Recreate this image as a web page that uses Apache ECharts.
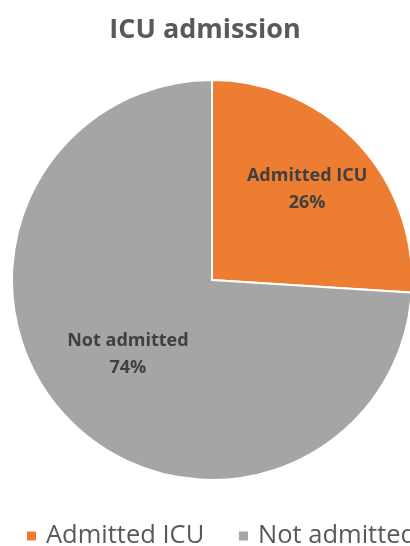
<!DOCTYPE html>
<html lang="en">
  <head>
    <meta charset="UTF-8" />
    <title>ICU admission</title>
    <script src="https://cdn.jsdelivr.net/npm/echarts@6/dist/echarts.min.js"></script>
    <style>
      html, body { margin: 0; padding: 0; background: #fff; }
      #chart { width: 410px; height: 546px; }
    </style>
  </head>
  <body>
    <div id="chart"></div>
    <script>
      // data
      var categories = ['Admitted ICU', 'Not admitted'];
      var shares = [26, 74];
      var colors = ['#ED7D31', '#A5A5A5'];
      // label nudges so text sits where the original put it
      var labelOffsets = [[20, -20], [-9, 4]];
      // the legend runs off the right edge in the original, so each item gets its own legend box
      var legendLefts = [20, 232];

      var pieData = categories.map(function (name, i) {
        return {
          name: name,
          value: shares[i],
          itemStyle: { color: colors[i] },
          label: { offset: labelOffsets[i] }
        };
      });

      var legends = categories.map(function (name, i) {
        return {
          data: [name],
          left: legendLefts[i],
          top: 518,
          icon: 'rect',
          itemWidth: 11,
          itemHeight: 11,
          textStyle: {
            fontFamily: 'Open Sans',
            fontSize: 25.5,
            color: '#595959',
            padding: [0, 0, 0, 4]
          }
        };
      });

      var chart = echarts.init(document.getElementById('chart'));
      chart.setOption({
        animation: false,
        title: {
          text: 'ICU admission',
          left: 'center',
          top: 12,
          textStyle: {
            fontFamily: 'Open Sans',
            fontSize: 27,
            fontWeight: 'bold',
            color: '#595959'
          }
        },
        legend: legends,
        series: [{
          type: 'pie',
          center: [212, 280],
          radius: 200,
          startAngle: 90,
          clockwise: true,
          silent: true,
          itemStyle: { borderColor: '#fff', borderWidth: 2 },
          label: {
            position: 'inside',
            formatter: '{b}\n{c}%',
            fontFamily: 'Open Sans',
            fontSize: 18,
            fontWeight: 'bold',
            lineHeight: 27,
            color: '#404040'
          },
          labelLine: { show: false },
          data: pieData
        }]
      });
    </script>
  </body>
</html>
